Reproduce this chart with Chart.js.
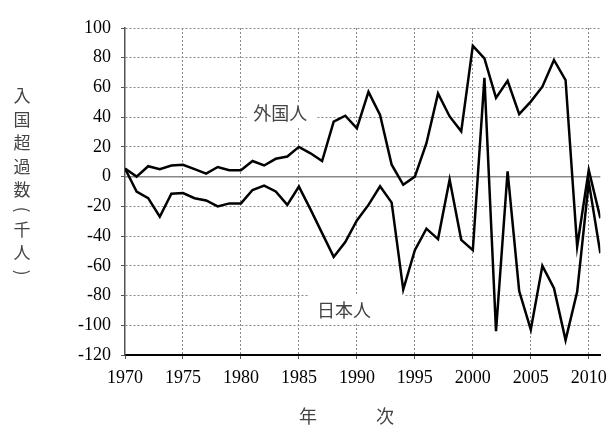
<!DOCTYPE html>
<html>
<head>
<meta charset="utf-8">
<script src="https://cdn.jsdelivr.net/npm/chart.js@4"></script>
<style>
    html, body { margin: 0; padding: 0; background: #fff; }
    #wrap { width: 615px; height: 426px; }
</style>
</head>
<body>
<div id="wrap"><canvas id="chart"></canvas></div>
<script>
var years = [
    1970, 1971, 1972, 1973, 1974, 1975, 1976, 1977, 1978, 1979,
    1980, 1981, 1982, 1983, 1984, 1985, 1986, 1987, 1988, 1989,
    1990, 1991, 1992, 1993, 1994, 1995, 1996, 1997, 1998, 1999,
    2000, 2001, 2002, 2003, 2004, 2005, 2006, 2007, 2008, 2009,
    2010, 2011
];
// 外国人 (千人)
var foreigners = [
    5.5, 0, 7, 5, 7.5, 8, 5, 2, 6.5, 4.3,
    4.3, 10.5, 7.5, 12, 13.5, 20, 15.7, 10.5, 37, 41,
    32.5, 57, 41.5, 8, -5.5, 0, 22.5, 56, 40.5, 30.5,
    88, 79.5, 53, 64.5, 42, 50.5, 60.5, 78.5, 65, -47,
    4.5, -28
];
// 日本人 (千人)
var japanese = [
    5.5, -10, -14.5, -27, -11.5, -11, -14.5, -16, -20, -18,
    -18, -9, -6, -10, -19, -6.7, -22, -38, -54, -44,
    -29.5, -19, -6.5, -17.5, -76, -49.5, -35, -42, -2, -42.5,
    -49.5, 66.5, -104, 3.5, -77, -103, -60, -75, -110, -77.5,
    -3.5, -51.5
];
var xTicks = [1970, 1975, 1980, 1985, 1990, 1995, 2000, 2005, 2010];
var yTicks = [-120, -100, -80, -60, -40, -20, 0, 20, 40, 60, 80, 100];

var yTitleChars = ['入', '国', '超', '過', '数', '(', '千', '人', ')'];

// line labels with a white box behind them (box in data units)
var lineLabels = [
    { text: '外国人', x: 1983.4, y: 42.5, box: [1980.5, 1986.5, 50, 33] },
    { text: '日本人', x: 1988.9, y: -89.5, box: [1985.9, 1994.1, -79, -98.5] }
];

function toPoints(vals) {
    return vals.map(function(v, i) { return { x: years[i], y: v }; });
}

var serif = "'Liberation Serif', 'DejaVu Serif', serif";
var jp = "'Noto Sans CJK JP', sans-serif";

var extras = {
    id: 'extras',
    beforeDatasetsDraw: function(chart) {
        var ctx = chart.ctx, xs = chart.scales.x, ys = chart.scales.y, area = chart.chartArea;
        ctx.save();
        // solid zero line
        var y0 = ys.getPixelForValue(0);
        ctx.strokeStyle = '#888';
        ctx.lineWidth = 1.5;
        ctx.beginPath();
        ctx.moveTo(area.left, y0);
        ctx.lineTo(area.right, y0);
        ctx.stroke();

        lineLabels.forEach(function(l) {
            var x1 = xs.getPixelForValue(l.box[0]), x2 = xs.getPixelForValue(l.box[1]);
            var y1 = ys.getPixelForValue(l.box[2]), y2 = ys.getPixelForValue(l.box[3]);
            ctx.fillStyle = '#fff';
            ctx.fillRect(x1, y1, x2 - x1, y2 - y1);
            ctx.fillStyle = '#444';
            ctx.font = '18px ' + jp;
            ctx.textAlign = 'center';
            ctx.textBaseline = 'middle';
            ctx.fillText(l.text, xs.getPixelForValue(l.x), ys.getPixelForValue(l.y));
        });
        ctx.restore();
    },
    afterDraw: function(chart) {
        var ctx = chart.ctx;
        ctx.save();
        ctx.fillStyle = '#444';
        ctx.textAlign = 'center';
        ctx.textBaseline = 'middle';
        ctx.font = '17px ' + jp;
        // vertical y title
        var cy = 96;
        yTitleChars.forEach(function(ch) {
            if (ch === '(' || ch === ')') {
                ctx.save();
                ctx.translate(22, cy - 4);
                ctx.rotate(Math.PI / 2);
                ctx.fillText(ch, 0, 0);
                ctx.restore();
                cy += 16;
            } else {
                ctx.fillText(ch, 22, cy);
                cy += 23.5;
            }
        });
        // x title
        ctx.font = '18px ' + jp;
        ctx.fillText('年', 308, 416);
        ctx.fillText('次', 385, 416);
        ctx.restore();
    }
};

new Chart(document.getElementById('chart'), {
    type: 'line',
    data: {
        datasets: [{
            label: '外国人',
            data: toPoints(foreigners),
            borderColor: '#000',
            borderWidth: 2.5,
            pointRadius: 0,
            tension: 0,
            fill: false
        }, {
            label: '日本人',
            data: toPoints(japanese),
            borderColor: '#000',
            borderWidth: 2.5,
            pointRadius: 0,
            tension: 0,
            fill: false
        }]
    },
    options: {
        responsive: true,
        maintainAspectRatio: false,
        animation: false,
        layout: { padding: { left: 0, top: 28, right: 10, bottom: 0 } },
        plugins: {
            legend: { display: false },
            tooltip: { enabled: false }
        },
        scales: {
            x: {
                type: 'linear',
                min: 1970,
                max: 2011,
                afterBuildTicks: function(s) { s.ticks = xTicks.map(function(v) { return { value: v }; }); },
                afterFit: function(s) { s.height = 71; },
                ticks: {
                    autoSkip: false,
                    maxRotation: 0,
                    padding: 8,
                    color: '#000',
                    font: { size: 18, family: serif },
                    callback: function(v) { return String(v); }
                },
                grid: {
                    color: function(c) { return c.tick && c.tick.value === 1970 ? 'rgba(0,0,0,0)' : '#888'; },
                    lineWidth: 1,
                    tickLength: 4,
                    tickColor: '#555'
                },
                border: { color: '#000', width: 2, dash: [2, 2] }
            },
            y: {
                min: -120,
                max: 100,
                afterBuildTicks: function(s) { s.ticks = yTicks.map(function(v) { return { value: v }; }); },
                afterFit: function(s) { s.width = 125; },
                ticks: {
                    padding: 10,
                    color: '#000',
                    font: { size: 18, family: serif },
                    callback: function(v) { return String(v); }
                },
                grid: {
                    color: function(c) {
                        var v = c.tick && c.tick.value;
                        return (v === 0 || v === -120) ? 'rgba(0,0,0,0)' : '#888';
                    },
                    lineWidth: 1,
                    tickLength: 4,
                    tickColor: '#555'
                },
                border: { color: '#555', width: 1.5, dash: [2, 2] }
            }
        }
    },
    plugins: [extras]
});
</script>
</body>
</html>
